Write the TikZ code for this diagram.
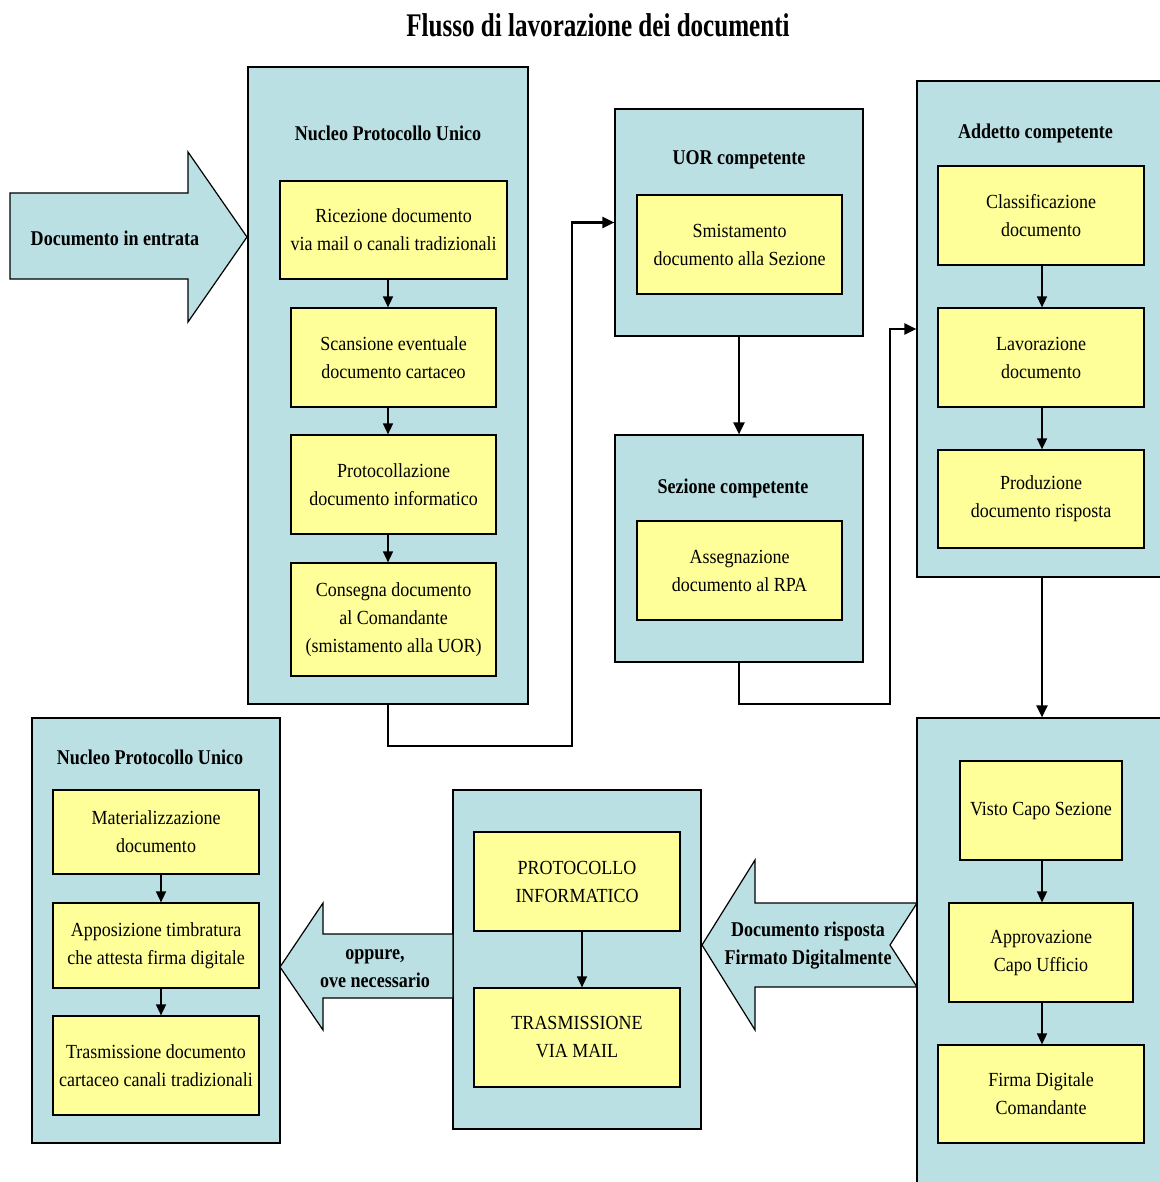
\documentclass[tikz,border=0pt]{standalone}
\usepackage{fontspec}
\setmainfont{Liberation Serif}[FakeStretch=0.9]
\newfontfamily\hdfont{Liberation Serif}[FakeStretch=0.86]
\newfontfamily\ttlfont{Liberation Serif}[FakeStretch=0.76]
\usetikzlibrary{arrows.meta,calc}
\definecolor{panelblue}{RGB}{187,224,227}
\definecolor{cardyellow}{RGB}{255,255,153}
\tikzset{
  panel/.style={draw=black, line width=1.2pt, fill=panelblue, rectangle, inner sep=0pt},
  card/.style={draw=black, line width=1.2pt, fill=cardyellow, rectangle, inner sep=0pt, align=center, font=\fontsize{20}{28}\selectfont},
  head/.style={font=\hdfont\bfseries\fontsize{21}{28}\selectfont, inner sep=0pt, align=center},
  flow/.style={line width=1.5pt, -{Triangle[length=11pt,width=10pt]}},
  link/.style={line width=2.2pt, -{Triangle[length=12pt,width=11pt]}},
  bigarrow/.style={draw=black, line width=1.2pt, fill=panelblue, line join=miter},
}
\begin{document}
\begin{tikzpicture}[x=1pt,y=-1pt]
\useasboundingbox (0,0) rectangle (1159,1182);
\fill[white] (0,0) rectangle (1159,1182);

% title
\node[font=\ttlfont\bfseries\fontsize{33}{36}\selectfont, inner sep=0pt] (title) at (598,25) {Flusso di lavorazione dei documenti};

% panels
\node[panel, minimum width=280pt, minimum height=637pt] (npu1) at (388,385.5) {};
\node[panel, minimum width=248pt, minimum height=227pt] (uor) at (739,222.5) {};
\node[panel, minimum width=248pt, minimum height=227pt] (sez) at (739,548.5) {};
\node[panel, minimum width=253pt, minimum height=496pt] (add) at (1043.5,329) {};
\node[panel, minimum width=253pt, minimum height=477pt] (cap) at (1043.5,956.5) {};
\node[panel, minimum width=248pt, minimum height=339pt] (mid) at (577,959.5) {};
\node[panel, minimum width=248pt, minimum height=425pt] (npu2) at (156,930.5) {};

% panel titles
\node[head] (t1) at (388,133) {Nucleo Protocollo Unico};
\node[head] (t2) at (739,160) {UOR competente};
\node[head] (t3) at (733,488) {Sezione competente};
\node[head] (t4) at (1035.5,133) {Addetto competente};
\node[head] (t5) at (150,757) {Nucleo Protocollo Unico};

% cards
\node[card, minimum width=227pt, minimum height=98pt] (ric) at (393.5,230) {Ricezione documento\\via mail o canali tradizionali};
\node[card, minimum width=205pt, minimum height=99pt] (sca) at (393.5,357.5) {Scansione eventuale\\documento cartaceo};
\node[card, minimum width=205pt, minimum height=99pt] (pro) at (393.5,484.5) {Protocollazione\\documento informatico};
\node[card, minimum width=205pt, minimum height=113pt] (con) at (393.5,619.5) {Consegna documento\\al Comandante\\(smistamento alla UOR)};

\node[card, minimum width=205pt, minimum height=99pt] (smi) at (739.5,244.5) {Smistamento\\documento alla Sezione};
\node[card, minimum width=205pt, minimum height=99pt] (ass) at (739.5,570.5) {Assegnazione\\documento al RPA};

\node[card, minimum width=206pt, minimum height=99pt] (cla) at (1041,215.5) {Classificazione\\documento};
\node[card, minimum width=206pt, minimum height=99pt] (lav) at (1041,357.5) {Lavorazione\\documento};
\node[card, minimum width=206pt, minimum height=98pt] (prd) at (1041,499) {Produzione\\documento risposta};

\node[card, minimum width=162pt, minimum height=99pt] (vis) at (1041,810.5) {Visto Capo Sezione};
\node[card, minimum width=184pt, minimum height=99pt] (app) at (1041,952.5) {Approvazione\\Capo Ufficio};
\node[card, minimum width=206pt, minimum height=98pt] (fir) at (1041,1094) {Firma Digitale\\Comandante};

\node[card, minimum width=206pt, minimum height=99pt] (pinf) at (577,881.5) {PROTOCOLLO\\INFORMATICO};
\node[card, minimum width=206pt, minimum height=99pt] (tra) at (577,1037.5) {TRASMISSIONE\\VIA MAIL};

\node[card, minimum width=206pt, minimum height=84pt] (mat) at (156,832) {Materializzazione\\documento};
\node[card, minimum width=206pt, minimum height=85pt] (apo) at (156,945.5) {Apposizione timbratura\\che attesta firma digitale};
\node[card, minimum width=206pt, minimum height=99pt] (trc) at (156,1065.5) {Trasmissione documento\\cartaceo canali tradizionali};

% big block arrows
\coordinate (a1) at (10,193);
\coordinate (a1t) at (247,237);
\draw[bigarrow] (a1) -- (188,193) -- (188,152) -- (a1t) -- (188,322) -- (188,279) -- (10,279) -- cycle;
\node[head] (l1) at (115,238) {Documento in entrata};

\coordinate (a2t) at (702,945);
\draw[bigarrow] (917,903) -- (755,903) -- (755,860) -- (a2t) -- (755,1030) -- (755,987) -- (917,987) -- (890,945) -- cycle;
\node[head] (l2) at (808,946) {Documento risposta\\Firmato Digitalmente};

\coordinate (a3t) at (280,967);
\draw[bigarrow] (453,934) -- (323,934) -- (323,903) -- (a3t) -- (323,1030) -- (323,998) -- (453,998) -- cycle;
\node[head] (l3) at (375,969) {oppure,\\ove necessario};

% internal arrows
\coordinate (xa) at (388,0);
\coordinate (xb) at (582,0);
\coordinate (xc) at (161,0);
\coordinate (xd) at (1042,0);
\draw[flow] (ric.south -| xa) -- (sca.north -| xa);
\draw[flow] (sca.south -| xa) -- (pro.north -| xa);
\draw[flow] (pro.south -| xa) -- (con.north -| xa);
\draw[flow] (pinf.south -| xb) -- (tra.north -| xb);
\draw[flow] (mat.south -| xc) -- (apo.north -| xc);
\draw[flow] (apo.south -| xc) -- (trc.north -| xc);
\draw[flow] (cla.south -| xd) -- (lav.north -| xd);
\draw[flow] (lav.south -| xd) -- (prd.north -| xd);
\draw[flow] (vis.south -| xd) -- (app.north -| xd);
\draw[flow] (app.south -| xd) -- (fir.north -| xd);

% connectors between panels
\coordinate (k1) at (572,746);
\coordinate (k2) at (890,704);
\draw[link] (npu1.south -| xa) |- (k1) |- (uor.west);
\draw[link] (uor.south) -- (sez.north);
\draw[link] (sez.south) |- (k2) |- (add.west);
\draw[link] (add.south -| xd) -- (cap.north -| xd);
\end{tikzpicture}
\end{document}
